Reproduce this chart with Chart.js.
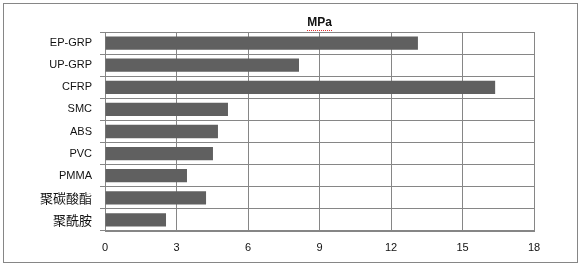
<!DOCTYPE html>
<html>
<head>
<meta charset="utf-8">
<script src="https://cdn.jsdelivr.net/npm/chart.js@4"></script>
<style>
  body { margin: 0; background: #fff; }
  .box {
    position: absolute;
    left: 3px;
    top: 3px;
    width: 573px;
    height: 258px;
    border: 1px solid #868686;
  }
</style>
</head>
<body>
<div class="box"><canvas class="graph" width="573" height="258"></canvas></div>
<script>
let materials = ["EP-GRP", "UP-GRP", "CFRP", "SMC", "ABS", "PVC", "PMMA", "聚碳酸酯", "聚酰胺"];
let strength = [13.13, 8.14, 16.37, 5.16, 4.74, 4.53, 3.44, 4.24, 2.56];
let xTicks = [0, 3, 6, 9, 12, 15, 18];
let unit = "MPa";

// red spellcheck squiggle under the title, like the original
const squiggle = {
  id: "squiggle",
  afterDraw(chart) {
    const t = chart.titleBlock;
    if (!t) return;
    const ctx = chart.ctx;
    ctx.save();
    ctx.font = "bold 12px 'Liberation Sans'";
    const w = ctx.measureText(unit).width;
    const cx = (t.left + t.right) / 2;
    const y = t.top + t.options.padding.top + 14;
    ctx.fillStyle = "#e03030";
    for (let x = Math.round(cx - w / 2); x < cx + w / 2; x += 2) {
      ctx.fillRect(x, y + ((x / 2) % 2 ? 1 : 0), 1, 1);
    }
    ctx.restore();
  },
};

const graph = new Chart(document.querySelector(".graph"), {
  type: "bar",
  data: {
    labels: materials,
    datasets: [
      {
        label: unit,
        data: strength,
        backgroundColor: "#606060",
        borderWidth: 0,
        categoryPercentage: 1,
        barPercentage: 0.6,
      },
    ],
  },
  options: {
    indexAxis: "y",
    responsive: false,
    animation: false,
    layout: {
      padding: { left: 0, right: 43, top: 0, bottom: 0 },
    },
    plugins: {
      legend: { display: false },
      tooltip: { enabled: false },
      title: {
        display: true,
        text: unit,
        fullSize: false,
        color: "#111",
        font: { family: "'Liberation Sans'", size: 12, weight: "bold" },
        padding: { top: 11, bottom: 2.6 },
      },
    },
    scales: {
      x: {
        min: 0,
        max: 18,
        afterBuildTicks: (scale) => {
          scale.ticks = xTicks.map((v) => ({ value: v }));
        },
        afterFit: (scale) => {
          scale.height = 31;
        },
        grid: {
          color: "#868686",
          drawTicks: false,
        },
        border: { color: "#868686" },
        ticks: {
          color: "#111",
          padding: 10,
          font: { family: "'Liberation Sans'", size: 11 },
        },
      },
      y: {
        afterFit: (scale) => {
          scale.width = 101;
        },
        grid: {
          color: "#868686",
          tickLength: 5,
        },
        border: { color: "#868686" },
        ticks: {
          color: "#111",
          padding: 8,
          font: (ctx) => {
            const lbl = ctx.tick && ctx.tick.label ? ctx.tick.label : "";
            if (/[\u4e00-\u9fff]/.test(lbl)) {
              return { family: "'Noto Sans CJK SC'", size: 13 };
            }
            return { family: "'Liberation Sans'", size: 11 };
          },
        },
      },
    },
  },
  plugins: [squiggle],
});
</script>
</body>
</html>
